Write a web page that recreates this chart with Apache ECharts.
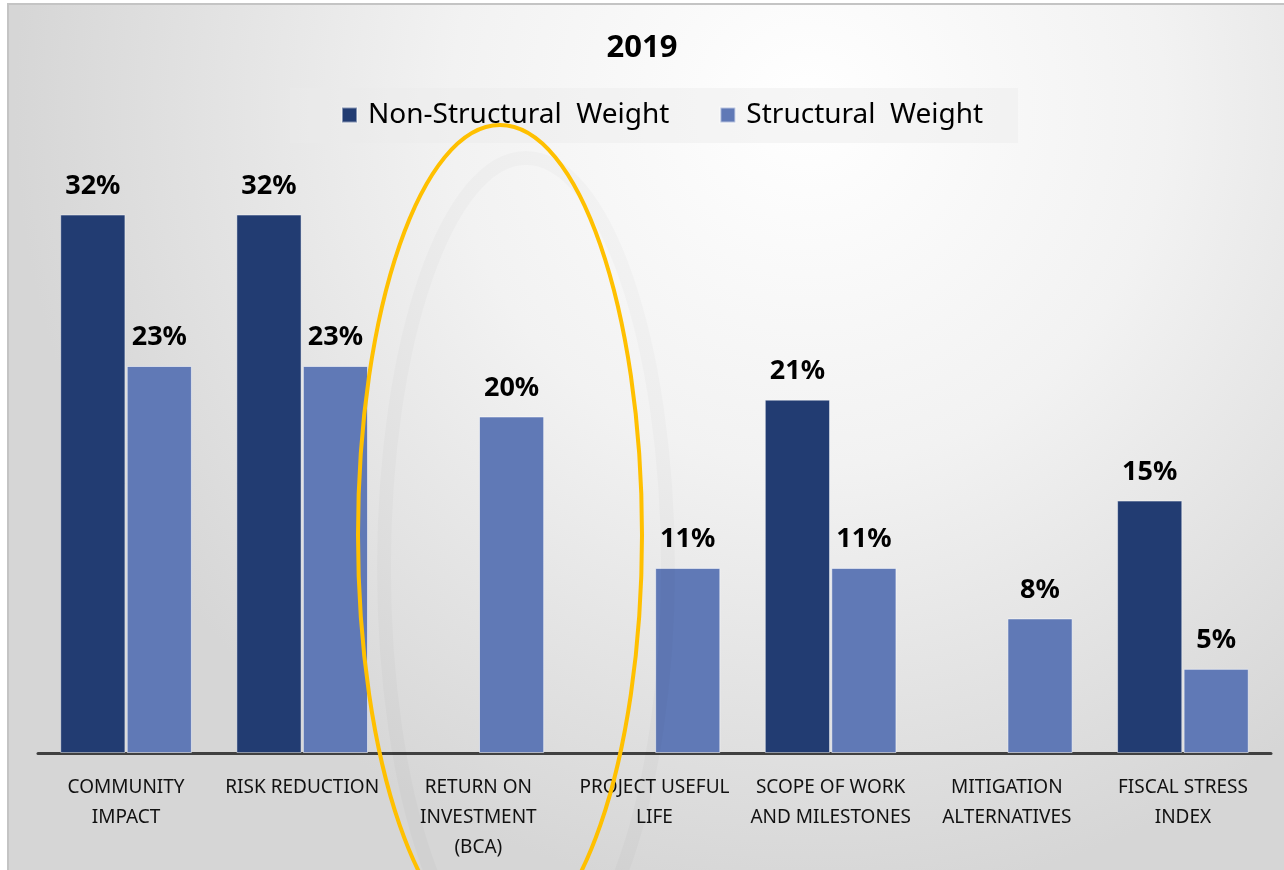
<!DOCTYPE html>
<html>
<head>
<meta charset="utf-8">
<style>html,body{margin:0;padding:0;background:#fff}#c{width:1284px;height:870px}</style>
<script src="https://cdn.jsdelivr.net/npm/echarts@6/dist/echarts.min.js"></script>
</head>
<body>
<div id="c"></div>
<script>
const categories = ['COMMUNITY\nIMPACT', 'RISK REDUCTION', 'RETURN ON\nINVESTMENT\n(BCA)', 'PROJECT USEFUL\nLIFE', 'SCOPE OF WORK\nAND MILESTONES', 'MITIGATION\nALTERNATIVES', 'FISCAL STRESS\nINDEX'];
const nonStructural = [32, 32, null, null, 21, null, 15];
const structural = [23, 23, 20, 11, 11, 8, 5];
const seriesNames = ['Non-Structural  Weight', 'Structural  Weight'];

const chart = echarts.init(document.getElementById('c'));
const font = 'Noto Sans';
const labelCfg = {
  show: true, position: 'top', distance: 15,
  formatter: p => p.value == null ? '' : p.value + '%',
  fontFamily: font, fontWeight: 'bold', fontSize: 27, color: '#000'
};
chart.setOption({
  backgroundColor: '#fff',
  animation: false,
  graphic: [
    { type: 'rect', z: -10, silent: true,
      shape: { x: 8, y: 4, width: 1290, height: 880 },
      style: {
        fill: new echarts.graphic.RadialGradient(0.62, 0.12, 0.9, [
          { offset: 0, color: '#ffffff' },
          { offset: 0.45, color: '#f2f2f2' },
          { offset: 1, color: '#d6d6d6' }
        ]),
        stroke: '#c4c4c4', lineWidth: 2
      } },
    { type: 'rect', z: -5, silent: true,
      shape: { x: 290, y: 88, width: 728, height: 55 },
      style: { fill: 'rgba(235,235,235,0.45)' } },
    { type: 'ellipse', z: 99, silent: true,
      shape: { cx: 526, cy: 568, rx: 142, ry: 410 },
      style: { fill: 'none', stroke: 'rgba(0,0,0,0.02)', lineWidth: 14,
        shadowBlur: 26, shadowColor: 'rgba(0,0,0,0.10)' } },
    { type: 'ellipse', z: 100, silent: true,
      shape: { cx: 500, cy: 535, rx: 142, ry: 410 },
      style: { fill: 'none', stroke: '#FFC000', lineWidth: 4 } }
  ],
  title: {
    text: '2019', left: 'center', top: 28,
    textStyle: { fontFamily: font, fontWeight: 'bold', fontSize: 31, color: '#000' }
  },
  legend: {
    top: 96, left: 336, itemWidth: 15, itemHeight: 15, itemGap: 50,
    icon: 'rect',
    textStyle: { fontFamily: font, fontSize: 28, color: '#000', padding: [0, 0, 0, 6] },
    data: seriesNames
  },
  grid: { left: 38, right: 13, top: 154, bottom: 117, containLabel: false },
  xAxis: {
    type: 'category', data: categories,
    axisLine: { lineStyle: { color: '#404040', width: 3 } },
    axisTick: { show: false },
    axisLabel: { interval: 0, margin: 20, fontFamily: font, fontSize: 19, color: '#111', lineHeight: 30 }
  },
  yAxis: { type: 'value', min: 0, max: 35.6, show: false, splitLine: { show: false } },
  series: [
    { name: seriesNames[0], type: 'bar', data: nonStructural, barWidth: '37%', barGap: '2%',
      itemStyle: { color: '#223c72', borderColor: 'rgba(255,255,255,0.45)', borderWidth: 1 },
      label: labelCfg },
    { name: seriesNames[1], type: 'bar', data: structural, barWidth: '37%',
      itemStyle: { color: '#6079b6', borderColor: 'rgba(255,255,255,0.55)', borderWidth: 1 },
      label: labelCfg }
  ]
});
</script>
</body>
</html>
